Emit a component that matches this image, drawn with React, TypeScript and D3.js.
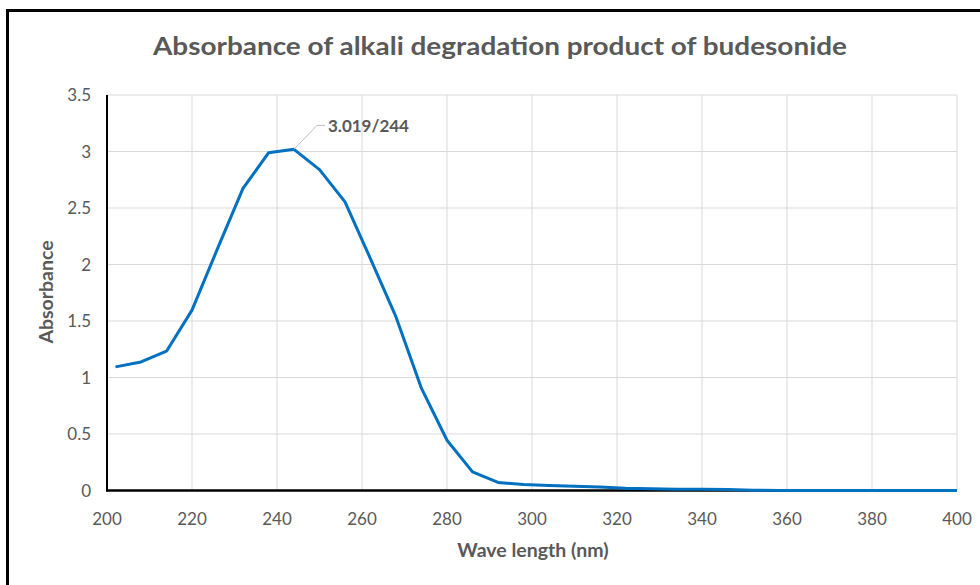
import React from "react";
import * as d3 from "d3";

const wavelengths: number[] = [
  202, 208, 214, 220, 226, 232, 238, 244, 250, 256, 262, 268, 274, 280, 286, 292, 298,
  304, 310, 316, 322, 328, 334, 340, 346, 352, 358, 364, 370, 376, 382, 388, 394, 400,
];
const absorbance: number[] = [
  1.094, 1.138, 1.233, 1.596, 2.14, 2.673, 2.988, 3.019, 2.84, 2.554, 2.05, 1.536, 0.903,
  0.445, 0.165, 0.071, 0.053, 0.045, 0.038, 0.03, 0.02, 0.015, 0.012, 0.01, 0.008, 0.003,
  0.0, 0.0, 0.0, 0.0, 0.0, 0.0, 0.0, 0.0,
];
const xTicks: number[] = [200, 220, 240, 260, 280, 300, 320, 340, 360, 380, 400];
const yTicks: number[] = [0, 0.5, 1, 1.5, 2, 2.5, 3, 3.5];
const yTickLabels: string[] = ["0", "0.5", "1", "1.5", "2", "2.5", "3", "3.5"];
const titleText = "Absorbance of alkali degradation product of budesonide";
const xTitle = "Wave length (nm)";
const yTitle = "Absorbance";
const peakLabel = "3.019/244";
const peakIndex = 7;

export default function App() {
  const W = 980;
  const H = 585;
  const left = 107;
  const right = 957;
  const top = 95;
  const bottom = 490.5;
  const x = d3.scaleLinear().domain([200, 400]).range([left, right]);
  const y = d3.scaleLinear().domain([0, 3.5]).range([bottom, top]);
  const pts = wavelengths.map((w, i) => [w, absorbance[i]] as [number, number]);
  const line = d3
    .line<[number, number]>()
    .x((d) => x(d[0]))
    .y((d) => y(d[1]));
  const font = "Lato, 'Open Sans', sans-serif";
  const gray = "#595959";
  const px = x(wavelengths[peakIndex]);
  const py = y(absorbance[peakIndex]);

  return (
    <svg
      width={W}
      height={H}
      style={{ position: "absolute", left: 0, top: 0, background: "#fff" }}
    >
      <rect x={0} y={0} width={W} height={H} fill="#fff" />
      <rect x={7.5} y={10.5} width={W + 20} height={H + 20} fill="none" stroke="#000" strokeWidth={3} />
      <text
        x={500}
        y={55}
        textAnchor="middle"
        fontFamily={font}
        fontWeight={700}
        fontSize={25}
        fill={gray}
        textLength={694}
        lengthAdjust="spacingAndGlyphs"
      >
        {titleText}
      </text>
      {yTicks.map((t) => (
        <line key={"gy" + t} x1={left} x2={right} y1={y(t)} y2={y(t)} stroke="#d9d9d9" strokeWidth={1} />
      ))}
      {xTicks.map((t) => (
        <line key={"gx" + t} x1={x(t)} x2={x(t)} y1={top} y2={bottom} stroke="#d9d9d9" strokeWidth={1} />
      ))}
      <line x1={left} x2={left} y1={top} y2={bottom + 1} stroke="#000" strokeWidth={2} />
      <line x1={left - 1} x2={right} y1={bottom} y2={bottom} stroke="#000" strokeWidth={2.5} />
      {yTicks.map((t, i) => (
        <text
          key={"ty" + t}
          x={91}
          y={y(t) + 6}
          textAnchor="end"
          fontFamily={font}
          fontSize={17}
          fill={gray}
        >
          {yTickLabels[i]}
        </text>
      ))}
      {xTicks.map((t) => (
        <text
          key={"tx" + t}
          x={x(t)}
          y={525}
          textAnchor="middle"
          fontFamily={font}
          fontSize={17}
          fill={gray}
        >
          {t}
        </text>
      ))}
      <text
        x={533}
        y={557}
        textAnchor="middle"
        fontFamily={font}
        fontWeight={700}
        fontSize={19.5}
        fill={gray}
      >
        {xTitle}
      </text>
      <text
        transform={`translate(53, 292) rotate(-90)`}
        textAnchor="middle"
        fontFamily={font}
        fontWeight={700}
        fontSize={19.5}
        fill={gray}
      >
        {yTitle}
      </text>
      <path d={line(pts) || ""} fill="none" stroke="#0070C0" strokeWidth={3} strokeLinejoin="round" />
      <polyline
        points={`${px},${py} ${px + 23},${py - 24} ${px + 31},${py - 24}`}
        fill="none"
        stroke="#bfbfbf"
        strokeWidth={1}
      />
      <text
        x={px + 34}
        y={py - 17}
        fontFamily={font}
        fontWeight={700}
        fontSize={17}
        fill={gray}
      >
        {peakLabel}
      </text>
    </svg>
  );
}
